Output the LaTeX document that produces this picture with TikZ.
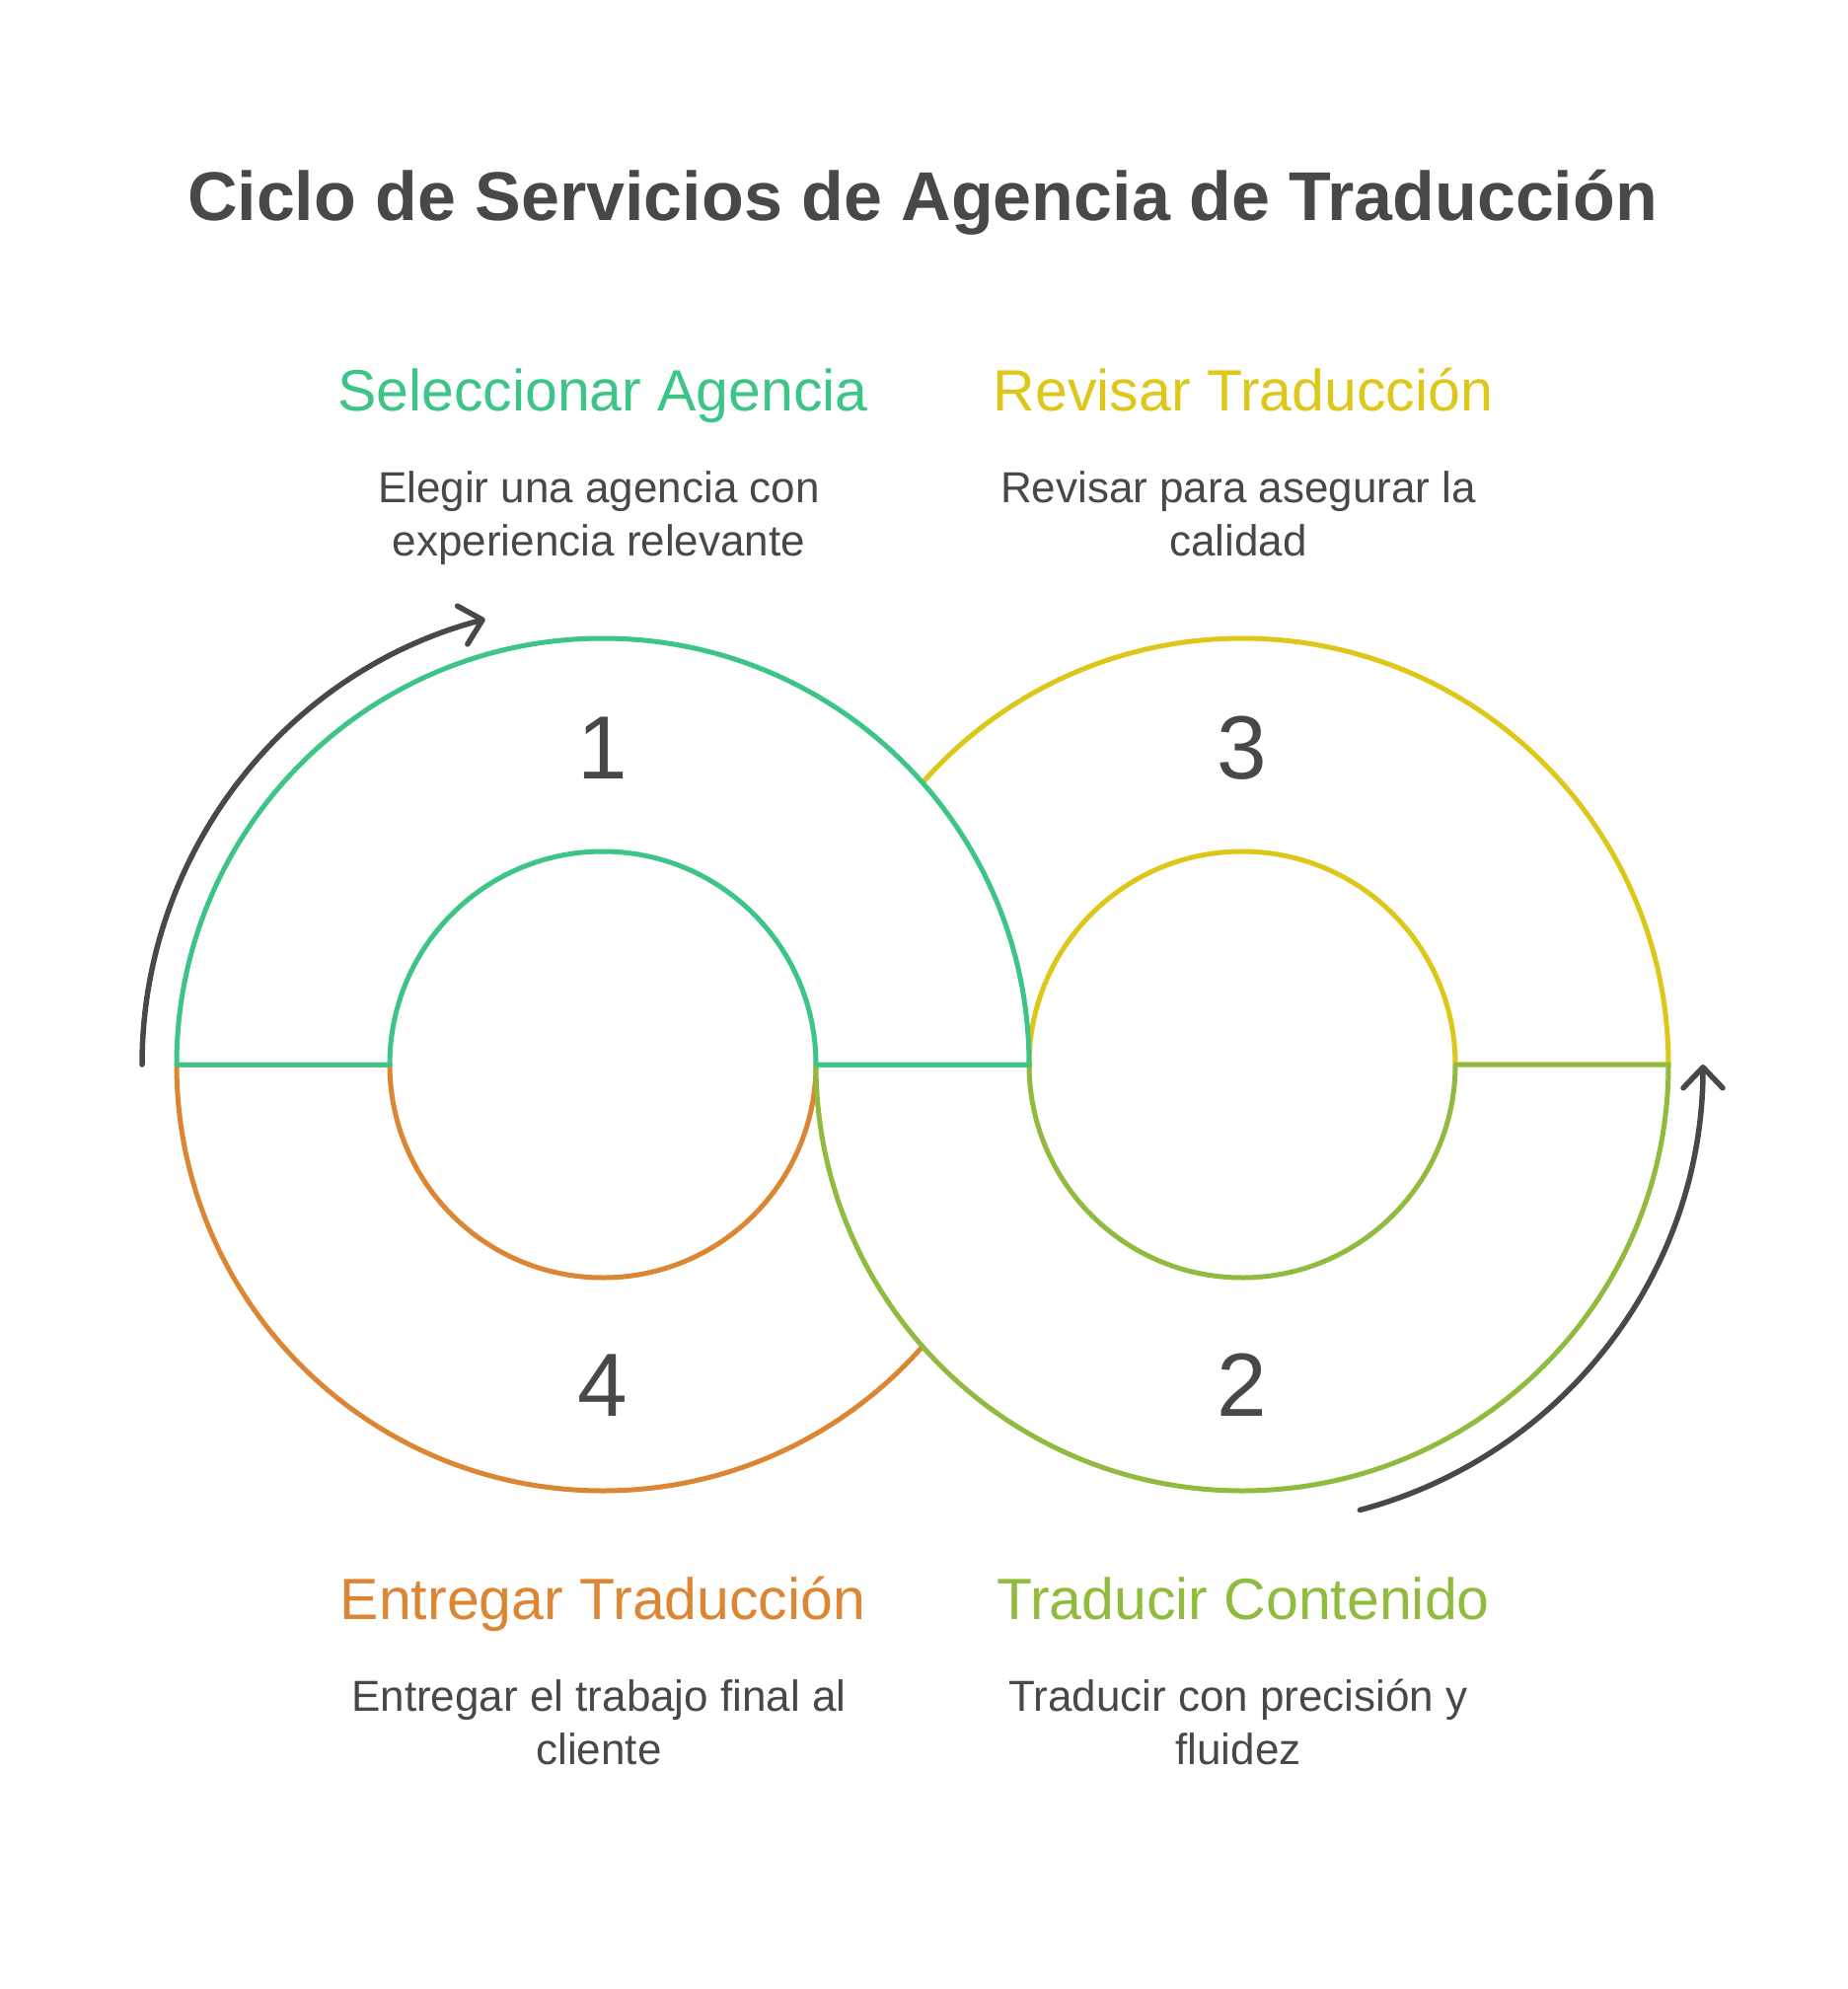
\documentclass[tikz,border=0pt]{standalone}
\usepackage{fontspec}
\setmainfont{Liberation Sans}
\usetikzlibrary{arrows.meta}
\definecolor{cgreen}{HTML}{3DC487}
\definecolor{cyellow}{HTML}{DDC819}
\definecolor{colive}{HTML}{91BB3E}
\definecolor{corange}{HTML}{DC8634}
\definecolor{cgray}{HTML}{484848}
\begin{document}
\begin{tikzpicture}[x=1pt,y=1pt,
  seg/.style={fill=white, line width=5pt, line join=round},
  head/.style={inner sep=0pt, anchor=base, font=\fontsize{59}{70}\selectfont},
  desc/.style={inner sep=0pt, anchor=base, align=center, text=cgray, font=\fontsize{44}{54}\selectfont},
  num/.style={inner sep=0pt, anchor=base, text=cgray, font=\fontsize{91}{100}\selectfont},
  arr/.style={draw=cgray, line width=5.5pt, line cap=round, -{Straight Barb[length=21pt,width=40pt,round]}}]
\useasboundingbox[fill=white] (0,0) rectangle (1873,-2016);
\coordinate (L) at (611,-1079);
\coordinate (R) at (1259,-1079);
% segment 3 (right top, yellow)
\path[seg, draw=cyellow] (R) ++(180:432) arc[start angle=180,end angle=0,radius=432] -- ++(-216,0) arc[start angle=0,end angle=180,radius=216] -- cycle;
% segment 4 (left bottom, orange)
\path[seg, draw=corange] (L) ++(180:432) arc[start angle=180,end angle=360,radius=432] -- ++(-216,0) arc[start angle=360,end angle=180,radius=216] -- cycle;
% segment 2 (right bottom, olive)
\path[seg, draw=colive] (R) ++(180:432) arc[start angle=180,end angle=360,radius=432] -- ++(-216,0) arc[start angle=360,end angle=180,radius=216] -- cycle;
% segment 1 (left top, green)
\path[seg, draw=cgreen] (L) ++(180:432) arc[start angle=180,end angle=0,radius=432] -- ++(-216,0) arc[start angle=0,end angle=180,radius=216] -- cycle;
% arrows
\draw[arr] (L) ++(180:467) arc[start angle=180,end angle=104.8,radius=467];
\draw[arr] (R) ++(-75.2:467) arc[start angle=-75.2,end angle=0,radius=467];
% numbers
\node[num] (n1) at (611,-789) {1};
\node[num] (n3) at (1259,-789) {3};
\node[num] (n4) at (611,-1435) {4};
\node[num] (n2) at (1259,-1435) {2};
% title
\node[inner sep=0pt, anchor=base, text=cgray, font=\fontsize{70}{84}\selectfont\bfseries] (title) at (935,-223) {Ciclo de Servicios de Agencia de Traducción};
% headings and descriptions (desc anchored at last line baseline)
\node[head, text=cgreen] (h1) at (611,-416) {Seleccionar Agencia};
\node[desc] (d1) at (607,-563) {Elegir una agencia con\\experiencia relevante};
\node[head, text=cyellow] (h3) at (1260,-416) {Revisar Traducción};
\node[desc] (d3) at (1255,-563) {Revisar para asegurar la\\calidad};
\node[head, text=corange] (h4) at (611,-1641) {Entregar Traducción};
\node[desc] (d4) at (607,-1788) {Entregar el trabajo final al\\cliente};
\node[head, text=colive] (h2) at (1260,-1641) {Traducir Contenido};
\node[desc] (d2) at (1255,-1788) {Traducir con precisión y\\fluidez};
\end{tikzpicture}
\end{document}
